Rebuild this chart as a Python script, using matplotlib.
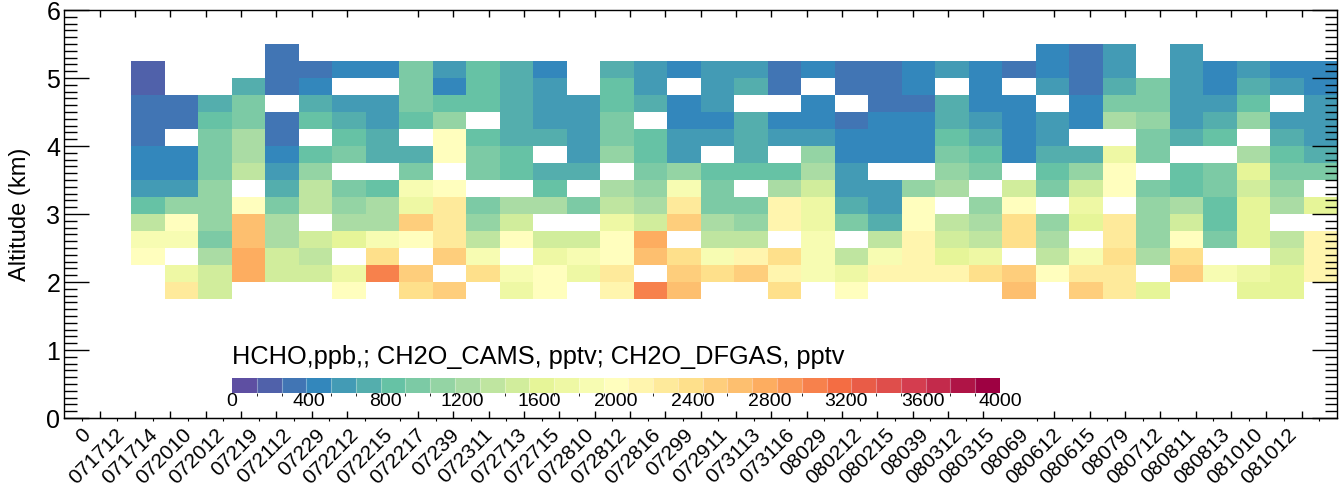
import numpy as np
import matplotlib
matplotlib.use("Agg")
import matplotlib.pyplot as plt
from matplotlib.colors import ListedColormap, BoundaryNorm

plt.rcParams['font.family'] = ['Liberation Sans', 'DejaVu Sans']

nan = np.nan

# flight labels on the x axis
flights = ["0", "071712", "071714", "072010", "072012", "07219", "072112", "07229",
           "072212", "072215", "072217", "07239", "072311", "072713", "072715",
           "072810", "072812", "072816", "07299", "072911", "073113", "073116",
           "08029", "080212", "080215", "08039", "080312", "080315", "08069",
           "080612", "080615", "08079", "080712", "080811", "080813", "081010",
           "081012"]

# altitude bin edges (km)
alt_edges = [1.75, 2.0, 2.25, 2.5, 2.75, 3.0, 3.25, 3.5, 3.75, 4.0, 4.25,
             4.5, 4.75, 5.0, 5.25, 5.5]

# HCHO (pptv) per altitude bin, one value per flight column
alt_1p75 = [nan, 2260, 1480, nan, nan, nan, 2000, nan, 2390, 2520, nan, 1740, 2000, nan, 2130, 3030, 2650, nan,
            nan, 2390, nan, 2000, nan, nan, nan, nan, 2650, nan, 2520, 2260, 1610, nan, nan, 1610, 1610, nan]
alt_2p00 = [nan, 1740, 1480, 2770, 1480, 1480, 1740, 3030, 2520, nan, 2390, 1870, 2000, 1740, 2260, nan, 2520, 2390,
            2520, 2130, 1870, 1740, 2130, 2130, 2130, 2390, 2520, 2000, 2260, 2260, nan, 2520, 1870, 1740, 1610, 2130]
alt_2p25 = [2000, nan, 1230, 2770, 1480, 1350, nan, 2390, nan, 2520, 1870, nan, 1740, 1870, 2000, 2650, 2390, 1870,
            2130, 2390, 1870, 1350, 1870, 2130, 1610, 1740, nan, 1350, 1870, 2390, 1230, 2390, nan, nan, 1480, 2130]
alt_2p50 = [1870, 1870, 970, 2650, 1230, 1480, 1610, 1870, 2000, 2260, 1350, 2000, 1480, 1480, 2000, 2770, nan, 1350,
            1350, nan, 1870, nan, 1350, 2130, 1480, 1350, 2390, 1230, nan, 2260, 1100, 2000, 970, 1610, 1350, 2130]
alt_2p75 = [1350, 2000, 1100, 2650, 1230, nan, 1230, 1230, 2520, 2260, 1100, 1480, nan, nan, 1740, 1480, 2520, 1230,
            1100, 2130, 1740, 970, 710, 2000, 1350, 1230, 2390, 1100, 1610, 2260, 1100, 1480, 840, 1610, nan, nan]
alt_3p00 = [840, 1100, 1100, 2000, 970, 1350, 1100, 1230, 1740, 2260, 970, 1230, 1230, 970, 1350, 1230, 2260, 970,
            970, 2130, 1740, 710, 580, 2000, nan, 1100, 2000, nan, 1740, nan, 1100, 1230, 840, 1610, 1230, 1610]
alt_3p25 = [580, 580, 1100, nan, 710, 1350, 970, 840, 1870, 2000, nan, nan, 840, nan, 1230, 1100, 1870, 970,
            nan, 1230, 1480, 580, 580, 1100, 1230, nan, 1480, 970, 1480, 2000, 970, 840, 970, 1480, 1100, nan]
alt_3p50 = [450, 450, 970, 1350, 580, 1100, nan, nan, 970, nan, 970, 840, 710, 710, nan, 970, 1100, 840,
            840, 840, 1230, 580, nan, nan, 1100, 970, nan, 840, 1100, 2000, nan, 840, 970, 1610, 970, 970]
alt_3p75 = [450, 450, 970, 1230, 450, 840, 970, 710, 710, 2000, 970, 840, nan, 580, 1100, 840, 580, nan,
            710, nan, 1100, 450, 450, 450, 970, 840, 450, 710, 710, 1740, 970, nan, nan, 1230, 840, 710]
alt_4p00 = [320, nan, 970, 1230, 320, nan, 840, 710, nan, 2000, 840, 710, 710, 580, 970, 840, 580, 580,
            710, 580, 580, 450, 450, 450, 840, 710, 450, 580, nan, nan, 970, 710, 840, nan, 710, 580]
alt_4p25 = [320, 320, 840, 970, 320, 840, 710, 580, 840, 1100, nan, 710, 580, 580, 970, nan, 450, 450,
            710, 450, 450, 320, 450, 450, 710, 580, 450, 580, 450, 1230, 1100, 580, 710, 1100, 580, 580]
alt_4p50 = [320, 320, 710, 970, nan, 710, 580, 580, 970, 840, 840, 710, 580, 580, 840, 710, 450, 580,
            nan, nan, 450, nan, 320, 320, 710, 450, 450, nan, 450, 970, 970, 580, 580, 840, nan, 580]
alt_4p75 = [190, nan, nan, 710, 320, 450, nan, nan, 970, 450, 840, 710, 580, nan, 840, 580, nan, 580,
            710, 320, nan, 320, 320, 450, nan, 450, nan, 580, 320, 710, 970, 580, 450, 710, 580, 450]
alt_5p00 = [190, nan, nan, nan, 320, 320, 450, 450, 970, 580, 840, 710, 450, nan, 710, 580, 450, 580,
            580, 320, 450, 320, 320, 450, 580, 450, 320, 450, 320, 580, nan, 580, 450, 580, 450, 450]
alt_5p25 = [nan, nan, nan, nan, 320, nan, nan, nan, nan, nan, nan, nan, nan, nan, nan, nan, nan, nan,
            nan, nan, nan, nan, nan, nan, nan, nan, nan, 450, 320, 580, nan, 580, nan, nan, nan, nan]

rows = [alt_1p75, alt_2p00, alt_2p25, alt_2p50, alt_2p75, alt_3p00, alt_3p25, alt_3p50,
        alt_3p75, alt_4p00, alt_4p25, alt_4p50, alt_4p75, alt_5p00, alt_5p25]
z = np.ma.masked_invalid(np.array(rows, dtype=float))

# 31 contour levels between 0 and 4000
nlev = 31
base = plt.get_cmap('Spectral_r')
cmap = ListedColormap([base(k / (nlev - 1)) for k in range(nlev)])
norm = BoundaryNorm(np.linspace(0, 4000, nlev + 1), nlev)

W, H = 1341, 487
fig = plt.figure(figsize=(W / 100, H / 100), dpi=100)
ax = fig.add_axes([64.3 / W, 1 - 418 / H, (1337 - 64.3) / W, (418 - 10) / H])

nbins = 38
x_edges = np.arange(2, nbins + 1)
mesh = ax.pcolormesh(x_edges, alt_edges, z, cmap=cmap, norm=norm)

ax.set_xlim(0, nbins)
ax.set_ylim(0, 6)

# x labels at bin centres, rotated
ax.set_xticks(np.arange(len(flights)) + 0.5)
ax.set_xticklabels(flights, rotation=45, ha='right', va='top',
                   rotation_mode='anchor', fontsize=15)
ax.tick_params(axis='x', which='major', length=0, pad=5)
# axis divisions (not tied to the bins)
ax.set_xticks(np.arange(1, 36) * nbins / 36, minor=True)
ax.tick_params(axis='x', which='minor', direction='in', length=5,
               top=True, bottom=True, width=1)
sec = ax.secondary_xaxis('bottom')
sec.set_xticks((np.arange(36) + 0.5) * nbins / 36)
sec.tick_params(direction='out', length=2, labelbottom=False)

ax.set_yticks(range(7))
ax.set_yticks(np.arange(0, 6.01, 0.1), minor=True)
ax.tick_params(axis='y', which='major', direction='in', length=18, width=1,
               left=True, right=True, labelsize=18, pad=3)
ax.tick_params(axis='y', which='minor', direction='in', length=9, width=1,
               left=True, right=True)
for sp in ax.spines.values():
    sp.set_linewidth(1)

fig.text(20 / W, 1 - 214 / H, "Altitude (km)", rotation=90, ha='center',
         va='center', fontsize=17)

# colour bar
cax = fig.add_axes([232 / W, 1 - 392.7 / H, (1000 - 232) / W, 15 / H])
cb = fig.colorbar(mesh, cax=cax, orientation='horizontal',
                  ticks=np.arange(0, 4001, 400), drawedges=True)
cb.outline.set_visible(False)
cb.dividers.set_color('white')
cb.dividers.set_alpha(0.35)
cb.dividers.set_linewidth(0.8)
cax.tick_params(length=0, labelsize=14, pad=0)
fig.text(232 / W, 1 - 364 / H, "HCHO,ppb,; CH2O_CAMS, pptv; CH2O_DFGAS, pptv",
         ha='left', va='baseline', fontsize=18.3)

fig.savefig("out.png", dpi=100)
